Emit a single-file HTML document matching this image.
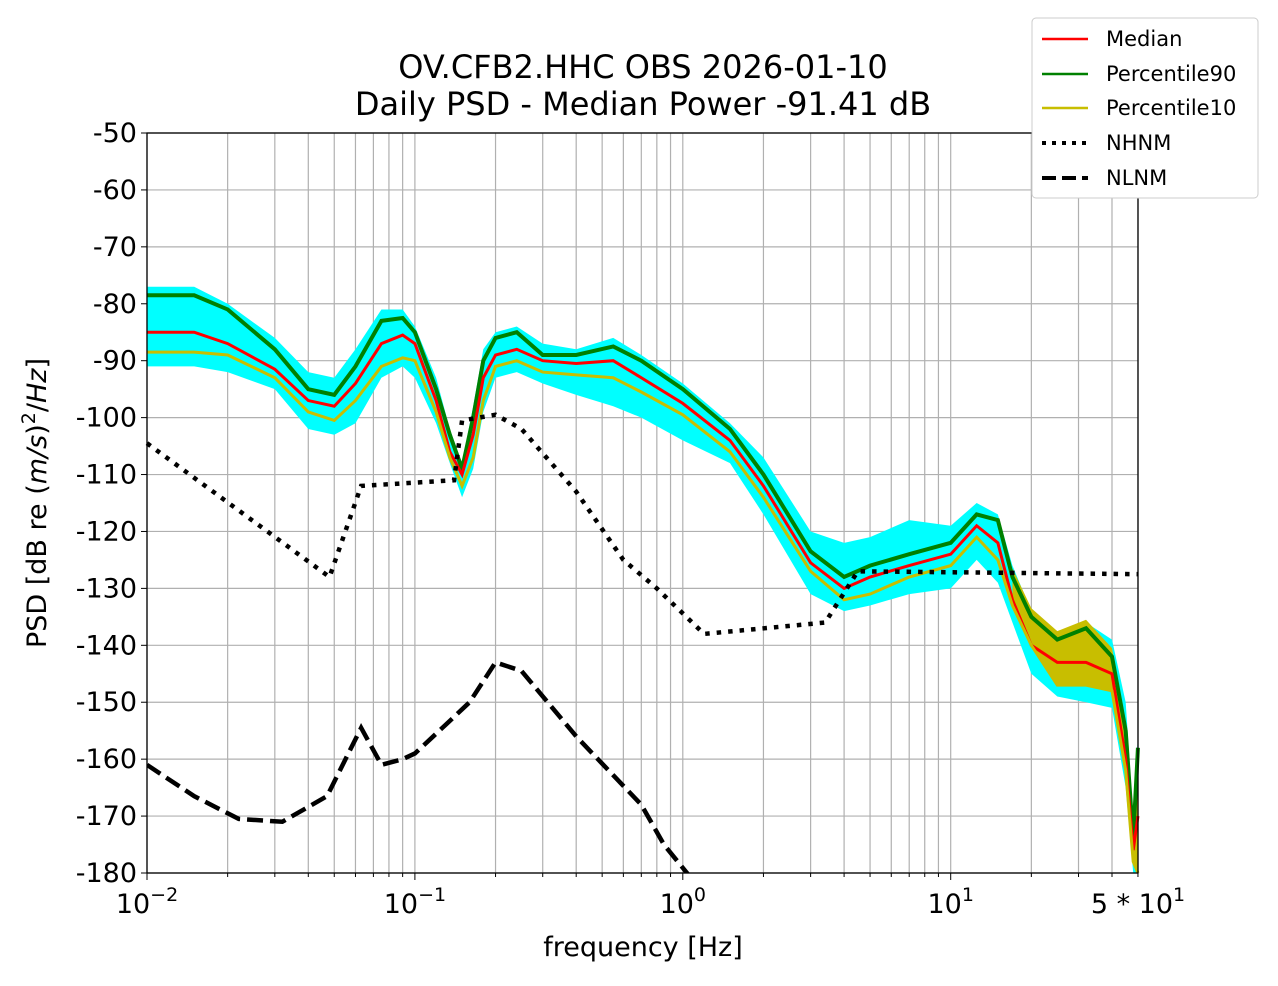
<!DOCTYPE html>
<html><head><meta charset="utf-8"><style>
body{margin:0;background:#fff;}
svg text{font-family:"DejaVu Sans","Liberation Sans",sans-serif;}
</style></head><body>
<svg id="s" width="1278" height="981" xmlns="http://www.w3.org/2000/svg">
<rect width="1278" height="981" fill="#fff"/>
<g id="grid"></g>
<g id="data"></g>
<rect x="147" y="133" width="991" height="740" fill="none" stroke="#000" stroke-width="1.3"/>
<g id="ticks" font-size="27"></g>
<text x="643" y="78" font-size="32" text-anchor="middle">OV.CFB2.HHC OBS 2026-01-10</text>
<text x="643" y="115" font-size="32" text-anchor="middle">Daily PSD - Median Power -91.41 dB</text>
<text x="643" y="956" font-size="27" text-anchor="middle">frequency [Hz]</text>
<text transform="translate(46,503) rotate(-90)" font-size="27" text-anchor="middle">PSD [dB re (<tspan font-style="italic">m/s</tspan>)<tspan dy="-11" font-size="19">2</tspan><tspan dy="11">/</tspan><tspan font-style="italic">Hz</tspan>]</text>
<g>
<rect x="1032" y="18" width="226" height="180" rx="4" fill="#fff" stroke="#ccc"/>
<line x1="1042" y1="39" x2="1088" y2="39" stroke="red" stroke-width="2.5"/>
<line x1="1042" y1="74" x2="1088" y2="74" stroke="green" stroke-width="2.5"/>
<line x1="1042" y1="108" x2="1088" y2="108" stroke="#c8be00" stroke-width="2.5"/>
<line x1="1042" y1="143" x2="1088" y2="143" stroke="#000" stroke-width="4" stroke-dasharray="4,6"/>
<line x1="1042" y1="178" x2="1088" y2="178" stroke="#000" stroke-width="4" stroke-dasharray="14,6"/>
<g font-size="21"><text x="1106" y="46">Median</text><text x="1106" y="81">Percentile90</text><text x="1106" y="115">Percentile10</text><text x="1106" y="150">NHNM</text><text x="1106" y="185">NLNM</text></g>
</g>
</svg>
<script>
const NS="http://www.w3.org/2000/svg";
function X(f){return 147+267.9*(Math.log10(f)+2);}
function Y(d){return 133+(-50-d)*5.6923;}
function el(p,t,a){const e=document.createElementNS(NS,t);for(const k in a)e.setAttribute(k,a[k]);p.appendChild(e);return e;}
const g=document.getElementById('grid'),tk=document.getElementById('ticks'),dg=document.getElementById('data');
for(let d=-50;d>=-180;d-=10){const y=Y(d);el(g,'line',{x1:147,x2:1138,y1:y,y2:y,stroke:'#b0b0b0','stroke-width':1.2});
el(tk,'line',{x1:141,x2:147,y1:y,y2:y,stroke:'#000'});const t=el(tk,'text',{x:137,y:y+9,'text-anchor':'end'});t.textContent=d;}
for(let e=-2;e<=1;e++)for(let m=1;m<=9;m++){const f=m*Math.pow(10,e);if(f>50)break;const x=X(f);
el(g,'line',{x1:x,x2:x,y1:133,y2:873,stroke:'#b0b0b0','stroke-width':1.2});
el(tk,'line',{x1:x,x2:x,y1:873,y2:m==1?880:877,stroke:'#000'});}
[[0.01,'10','−2'],[0.1,'10','−1'],[1,'10','0'],[10,'10','1']].forEach(a=>{const t=el(tk,'text',{x:X(a[0]),y:913,'text-anchor':'middle'});t.innerHTML=a[1]+'<tspan dy="-12" font-size="19">'+a[2]+'</tspan>';});
{const t=el(tk,'text',{x:1138,y:913,'text-anchor':'middle'});t.innerHTML='5 * 10<tspan dy="-12" font-size="19">1</tspan>';}
const D=[[0.01,-77,-78.5,-85,-88.5,-91],[0.015,-77,-78.5,-85,-88.5,-91],[0.02,-80,-81,-87,-89,-92],[0.03,-86,-88,-91.5,-93,-95],[0.04,-92,-95,-97,-99,-102],[0.05,-93,-96,-98,-100.5,-103],[0.06,-88,-91,-94,-97,-101],[0.075,-81,-83,-87,-91,-93],[0.09,-81,-82.5,-85.5,-89.5,-91],[0.1,-84,-85,-87,-90,-93],[0.12,-93,-95,-97,-99,-101],[0.135,-102,-103,-106,-107,-108],[0.15,-108,-109,-110,-112,-114],[0.165,-98,-100,-103,-107,-109],[0.18,-88,-90,-93,-97,-99],[0.2,-85,-86,-89,-91,-93],[0.24,-84,-85,-88,-90,-92],[0.3,-87,-89,-90,-92,-94],[0.4,-88,-89,-90.5,-92.5,-96],[0.55,-86,-87.5,-90,-93,-98],[0.7,-89,-90,-93,-95.5,-100],[1,-94,-95,-97.5,-99.5,-104],[1.5,-101,-102,-104,-106,-108],[2,-107,-110,-112,-114,-117],[3,-120,-123.5,-125.5,-127,-131],[4,-122,-128,-130,-132,-134],[5,-121,-126,-128,-131,-133],[7,-118,-124,-126,-128,-131],[10,-119,-122,-124,-126,-130],[12.5,-115,-117,-119,-121,-125],[15,-117,-118,-122,-125,-129],[17,-126,-128,-132,-133,-136],[20,-134,-135,-140,-140,-145],[25,-138,-139,-143,-147,-149],[32,-136,-137,-143,-147,-150],[40,-139,-142,-145,-148,-151],[45,-150,-155,-160,-162,-165],[48,-170,-174,-176,-178,-180],[50,-156,-158,-170,-180,-180]];
const pts=(i,arr)=>(arr||D).map(r=>X(r[0])+','+Y(r[i])).join(' ');
el(dg,'polygon',{points:pts(1)+' '+D.slice().reverse().map(r=>X(r[0])+','+Y(r[5])).join(' '),fill:'cyan'});
const H=D.filter(r=>r[0]>=17);
el(dg,'polygon',{points:H.map(r=>X(r[0])+','+Y(r[2]+1.5)).join(' ')+' '+H.slice().reverse().map(r=>X(r[0])+','+Y(r[4])).join(' '),fill:'#c8be00'});
el(dg,'polyline',{points:pts(2),fill:'none',stroke:'green','stroke-width':4});
el(dg,'polyline',{points:pts(3),fill:'none',stroke:'red','stroke-width':3});
el(dg,'polyline',{points:pts(4),fill:'none',stroke:'#c8be00','stroke-width':3});
const NH=[[0.01,-104.5],[0.048,-128],[0.063,-112],[0.14,-111],[0.15,-100.5],[0.2,-99.5],[0.25,-102],[0.4,-113],[0.6,-125],[0.8,-130],[1.2,-138],[3.4,-136],[4.5,-127],[50,-127.5]];
el(dg,'polyline',{points:NH.map(r=>X(r[0])+','+Y(r[1])).join(' '),fill:'none',stroke:'#000','stroke-width':4.5,'stroke-dasharray':'4.5,7'});
const NL=[[0.01,-161],[0.015,-166.5],[0.022,-170.5],[0.032,-171],[0.047,-166.5],[0.063,-154.5],[0.075,-161],[0.09,-160],[0.1,-159],[0.13,-154],[0.16,-150],[0.2,-143],[0.25,-144.5],[0.4,-156],[0.7,-168],[0.85,-175],[1.1,-181.5]];
const cp=el(dg,'clipPath',{id:'c'});el(cp,'rect',{x:147,y:133,width:991,height:740});
el(dg,'polyline',{points:NL.map(r=>X(r[0])+','+Y(r[1])).join(' '),fill:'none',stroke:'#000','stroke-width':4.5,'stroke-dasharray':'16,7','clip-path':'url(#c)'});
</script>
</body></html>
